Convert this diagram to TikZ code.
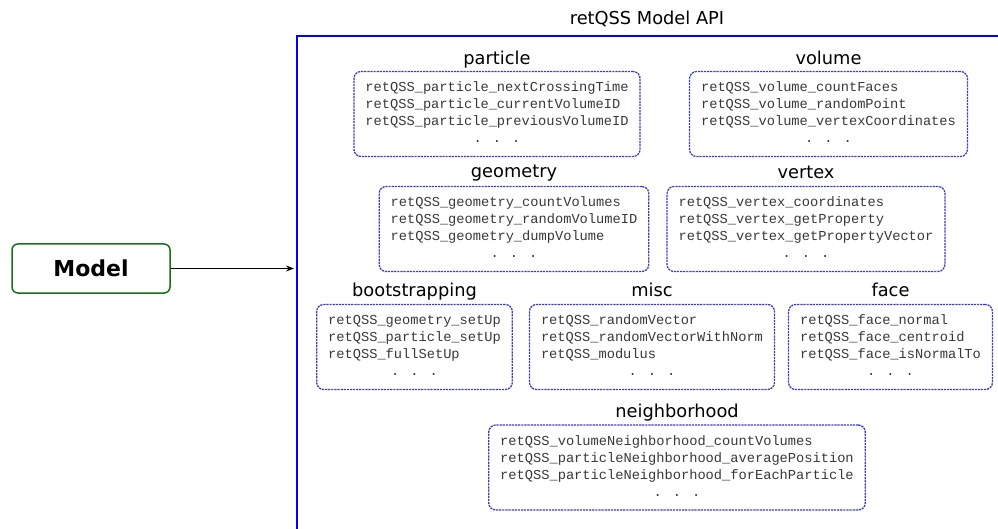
\documentclass[tikz,border=0pt]{standalone}
\usepackage{fontspec}
\setmainfont{DejaVu Sans}
\newfontfamily\apimono{Liberation Mono}
\usetikzlibrary{arrows.meta,calc}
\definecolor{frameblue}{RGB}{0,0,255}
\definecolor{boxblue}{RGB}{60,60,190}
\definecolor{modelgreen}{RGB}{25,110,25}
\newcommand\apilist[3]{{\apimono\fontsize{13.7}{17}\selectfont\color{black!78}\begin{tabular}{@{}l@{}}#1\\#2\\#3\\\multicolumn{1}{@{}c@{}}{. . .}\end{tabular}}}
\tikzset{
  apibox/.style={draw=boxblue, line width=1.3pt, dash pattern=on 2.2pt off 0.9pt,
    rounded corners=7pt, inner xsep=11.5pt, inner ysep=0pt, minimum height=85pt},
  apititle/.style={anchor=base, inner sep=0pt, font=\fontsize{17.8}{20}\selectfont},
  modelbox/.style={draw=modelgreen, line width=1.5pt, rounded corners=6pt,
    minimum width=158pt, minimum height=49pt, font=\bfseries\fontsize{22}{26}\selectfont},
  apiframe/.style={draw=frameblue, line width=1.6pt, anchor=north west,
    minimum width=740pt, minimum height=540pt, inner sep=0pt}
}
\begin{document}
\begin{tikzpicture}[x=1pt,y=-1pt]
\useasboundingbox (0,0) rectangle (998,529);
\clip (0,0) rectangle (998,529);
\node[apiframe] (api) at (296,35.5) {};
\node[apititle] (tapi) at (647,25) {retQSS Model API};

\node[modelbox] (model) at (91,268.5) {Model};
\draw[-{Stealth[length=8pt,width=6pt]}, line width=0.9pt, shorten >=2pt] (model.east) -- (model.east -| api.west);

\node[apibox] (particle) at (497,114) {\apilist{retQSS\_particle\_nextCrossingTime}{retQSS\_particle\_currentVolumeID}{retQSS\_particle\_previousVolumeID}};
\node[apititle] (tparticle) at ($(particle.north)+(0,-6)$) {particle};

\node[apibox] (volume) at (828.5,114) {\apilist{retQSS\_volume\_countFaces}{retQSS\_volume\_randomPoint}{retQSS\_volume\_vertexCoordinates}};
\node[apititle] (tvolume) at ($(volume.north)+(0,-6)$) {volume};

\node[apibox] (geometry) at (514,229) {\apilist{retQSS\_geometry\_countVolumes}{retQSS\_geometry\_randomVolumeID}{retQSS\_geometry\_dumpVolume}};
\node[apititle] (tgeometry) at ($(geometry.north)+(0,-8)$) {geometry};

\node[apibox] (vertex) at (806,229) {\apilist{retQSS\_vertex\_coordinates}{retQSS\_vertex\_getProperty}{retQSS\_vertex\_getPropertyVector}};
\node[apititle] (tvertex) at ($(vertex.north)+(0,-7)$) {vertex};

\node[apibox] (boot) at (414.5,347) {\apilist{retQSS\_geometry\_setUp}{retQSS\_particle\_setUp}{retQSS\_fullSetUp}};
\node[apititle] (tboot) at ($(boot.north)+(0,-7)$) {bootstrapping};

\node[apibox] (misc) at (652,347) {\apilist{retQSS\_randomVector}{retQSS\_randomVectorWithNorm}{retQSS\_modulus}};
\node[apititle] (tmisc) at ($(misc.north)+(0,-7)$) {misc};

\node[apibox] (face) at (890.5,347) {\apilist{retQSS\_face\_normal}{retQSS\_face\_centroid}{retQSS\_face\_isNormalTo}};
\node[apititle] (tface) at ($(face.north)+(0,-7)$) {face};

\node[apibox] (neigh) at (677,467.5) {\apilist{retQSS\_volumeNeighborhood\_countVolumes}{retQSS\_particleNeighborhood\_averagePosition}{retQSS\_particleNeighborhood\_forEachParticle}};
\node[apititle] (tneigh) at ($(neigh.north)+(0,-7)$) {neighborhood};
\end{tikzpicture}
\end{document}
